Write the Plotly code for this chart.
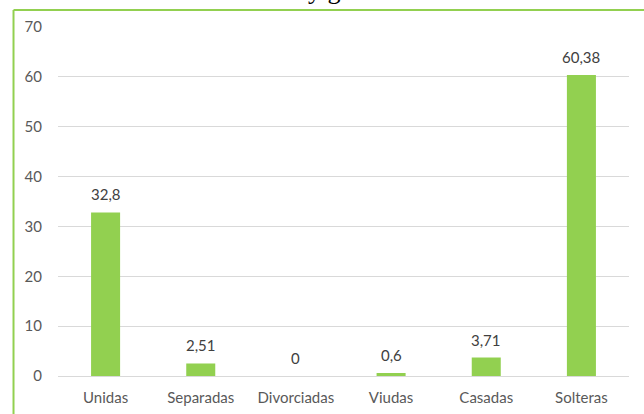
import plotly.graph_objects as go

categories = ["Unidas", "Separadas", "Divorciadas", "Viudas", "Casadas", "Solteras"]
values = [32.8, 2.51, 0, 0.6, 3.71, 60.38]
value_labels = ["32,8", "2,51", "0", "0,6", "3,71", "60,38"]
y_ticks = [0, 10, 20, 30, 40, 50, 60, 70]
title_text = "Estado civil y género"

GREEN = "#92D050"
FONT = "Lato"

fig = go.Figure()
fig.add_trace(go.Bar(
    x=categories, y=values,
    marker=dict(color=GREEN, line=dict(width=0)),
    hoverinfo="skip",
))

for c, v, t in zip(categories, values, value_labels):
    fig.add_annotation(
        x=c, y=v, xref="x", yref="y", text=t, showarrow=False,
        yanchor="middle", yshift=18,
        font=dict(family=FONT, size=15, color="#404040"),
    )

# title (mostly cut off at the top of the picture)
fig.add_annotation(
    x=0.208, y=1.060, xref="paper", yref="paper", text=title_text,
    showarrow=False, xanchor="left", yanchor="bottom", borderpad=0,
    font=dict(family="Liberation Serif", size=26, color="#000000"),
)

# green frame (top and left edges visible)
fig.add_shape(type="line", xref="paper", yref="paper",
              x0=-0.0779, x1=1.2, y0=1.0487, y1=1.0487,
              line=dict(color=GREEN, width=2))
fig.add_shape(type="line", xref="paper", yref="paper",
              x0=-0.0779, x1=-0.0779, y0=1.0487, y1=-0.3,
              line=dict(color=GREEN, width=2))

fig.update_layout(
    width=644, height=414,
    margin=dict(l=58, r=15, t=27, b=38),
    paper_bgcolor="white", plot_bgcolor="white",
    bargap=0.695,
    showlegend=False,
    font=dict(family=FONT, size=15, color="#595959"),
)
fig.update_xaxes(
    automargin=False,
    showgrid=False, showline=False, zeroline=False,
    ticks="outside", ticklen=8, tickcolor="rgba(0,0,0,0)",
    tickfont=dict(family=FONT, size=15, color="#595959"),
)
fig.update_yaxes(
    automargin=False,
    range=[0, 70], tickvals=y_ticks, ticktext=[str(v) for v in y_ticks],
    showgrid=True, gridcolor="#D9D9D9", gridwidth=1,
    zeroline=True, zerolinecolor="#D9D9D9", zerolinewidth=1,
    showline=False,
    ticks="outside", ticklen=12, tickcolor="rgba(0,0,0,0)",
    tickfont=dict(family=FONT, size=15, color="#595959"),
)

fig.write_html(
    "out.html",
    config={"displayModeBar": False},
    post_script="document.body.style.margin='0';document.body.style.overflow='hidden';",
)
